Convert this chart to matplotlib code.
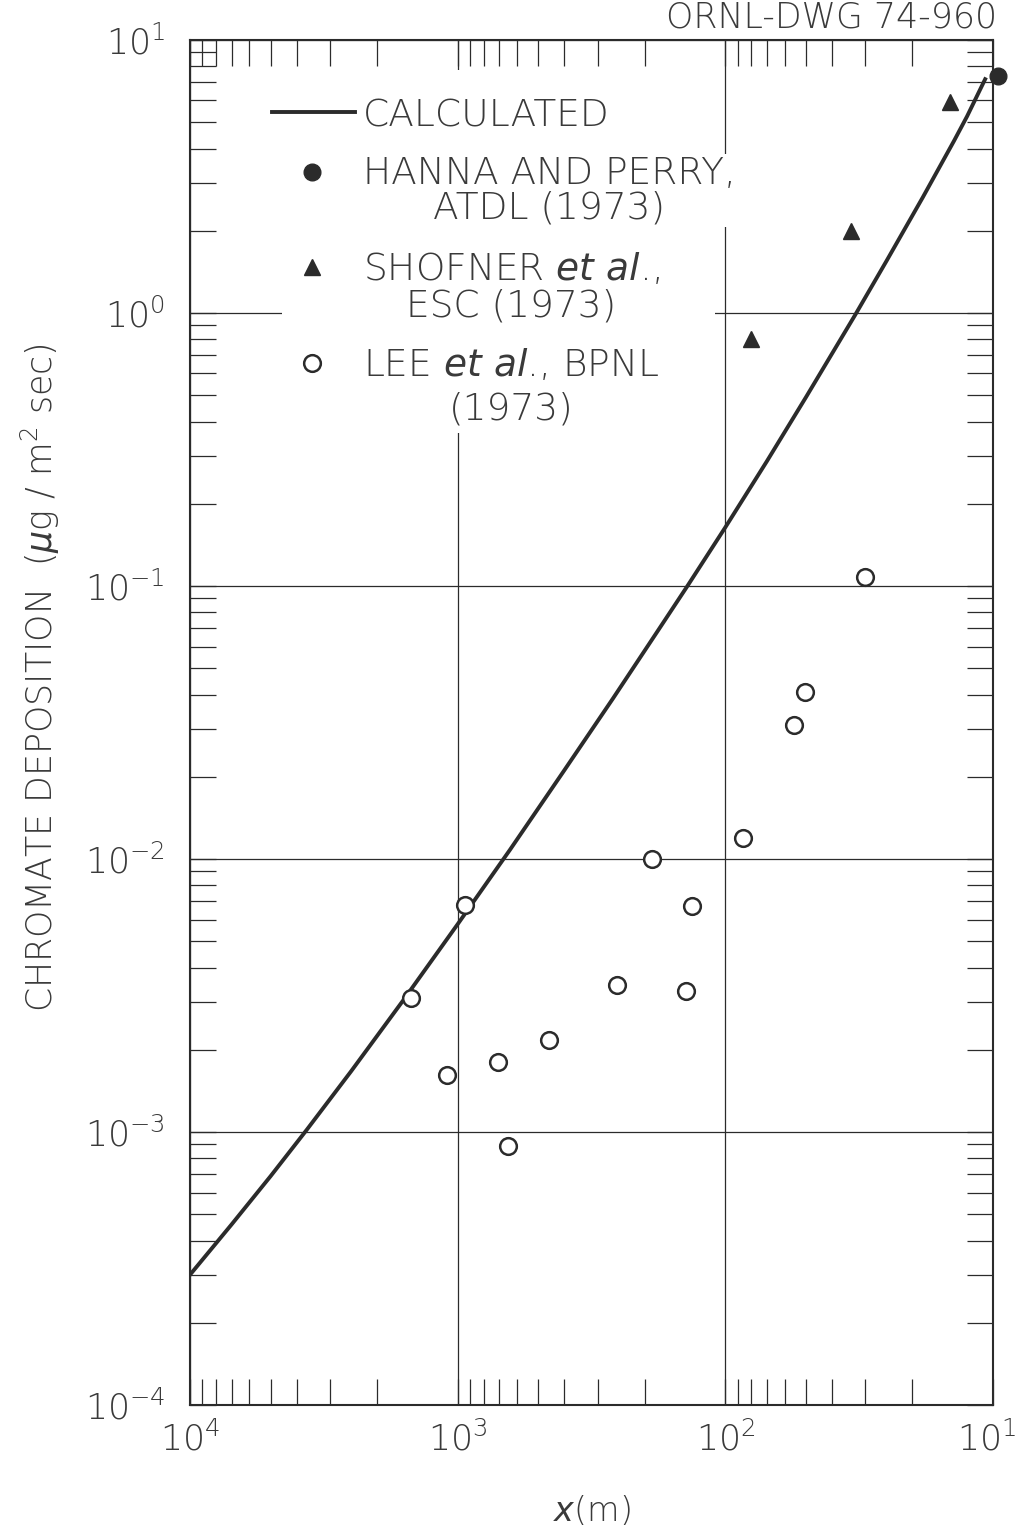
import matplotlib
matplotlib.use("Agg")
import matplotlib.pyplot as plt
import matplotlib.patches as mpatches
from matplotlib.transforms import ScaledTranslation

# ---- data ----
calc_x = [1e4, 7000, 5000, 3660, 2500, 1600, 1000, 638, 400, 263, 180, 139,
          100, 70, 50, 32.8, 25, 18.3, 14, 12.5, 10.7]
calc_y = [3.0e-4, 4.58e-4, 6.89e-4, 1.02e-3, 1.67e-3, 3.03e-3, 5.77e-3,
          1.08e-2, 2.11e-2, 3.87e-2, 6.78e-2, 0.0995, 0.164, 0.286, 0.491,
          0.98, 1.55, 2.65, 4.26, 5.25, 7.18]

hanna_x = [9.6]
hanna_y = [7.4]

shofner_x = [14.5, 34, 80]
shofner_y = [5.9, 2.0, 0.80]

lee_x = [30, 50.5, 55.5, 86, 188, 133, 940, 1490, 254, 140, 456, 706, 1096, 649]
lee_y = [0.108, 0.041, 0.031, 0.0119, 0.0100, 0.0067, 0.0068, 0.0031,
         0.00345, 0.00328, 0.00217, 0.0018, 0.00162, 0.00089]

INK = "#2b2b2b"
TXT = "#3a3a3a"

plt.rcParams.update({
    "font.family": "DejaVu Sans",
    "font.weight": "light",
    "axes.labelweight": "light",
    "text.color": TXT,
    "axes.labelcolor": TXT,
    "axes.edgecolor": INK,
    "xtick.color": INK, "ytick.color": INK,
    "xtick.labelcolor": TXT, "ytick.labelcolor": TXT,
    "mathtext.fontset": "custom",
    "mathtext.rm": "DejaVu Sans:light",
    "mathtext.it": "DejaVu Sans:italic:light",
    "mathtext.bf": "DejaVu Sans:bold",
})

fig = plt.figure(figsize=(10.19, 15.35), dpi=100)
ax = fig.add_axes([0.1865, 0.0847, 0.788, 0.8893])

ax.set_xscale("log")
ax.set_yscale("log")
ax.set_xlim(1e4, 10)
ax.set_ylim(1e-4, 10)

for s in ax.spines.values():
    s.set_linewidth(1.5)

ax.grid(True, which="major", color=INK, lw=0.9)
ax.tick_params(which="both", direction="in", top=True, right=True,
               length=19, width=0.9, labelsize=25)
ax.tick_params(axis="x", pad=12)
ax.tick_params(axis="y", pad=18)

# white field behind the key (hides the grid there, as on the drawing)
ax.add_patch(mpatches.Rectangle((0.115, 0.712), 0.539, 0.266,
                                transform=ax.transAxes, facecolor="white",
                                edgecolor="none", zorder=1.8))

ax.plot(calc_x, calc_y, color=INK, lw=2.8, zorder=3)
ax.plot(hanna_x, hanna_y, "o", color=INK, ms=12, zorder=4, clip_on=False)
ax.plot(shofner_x, shofner_y, "^", color=INK, ms=11, zorder=4)
ax.plot(lee_x, lee_y, "o", mfc="white", mec=INK, mew=1.8, ms=12, zorder=4)

# ---- key, drawn by hand ----
def ax_pt(px, py):
    return (px - 190) / 803, 1 - (py - 40) / 1365

kfs = 27
kx = ax_pt(363, 0)[0]
x0, y0 = ax_pt(272, 112)
x1, _ = ax_pt(355, 112)
ax.plot([x0, x1], [y0, y0], color=INK, lw=2.8, transform=ax.transAxes,
        zorder=5)
ax.text(kx, ax_pt(0, 116)[1], "CALCULATED", transform=ax.transAxes,
        fontsize=kfs, va="center", ha="left", zorder=5)

entries = [
    ("o", dict(color=INK, ms=12), 172, 0.97,
     "HANNA AND PERRY,\nATDL (1973)"),
    ("^", dict(color=INK, ms=11), 267, 1.06,
     "SHOFNER $\\mathit{et\\ al}$.,\nESC (1973)"),
    ("o", dict(mfc="white", mec=INK, mew=1.8, ms=12), 363, 1.32,
     "LEE $\\mathit{et\\ al}$., BPNL\n(1973)"),
]
for mk, kw, py, ls, label in entries:
    mx, my = ax_pt(312, py)
    ax.plot([mx], [my], mk, transform=ax.transAxes, zorder=5, **kw)
    ax.text(kx, ax_pt(0, py - 16)[1], label, transform=ax.transAxes,
            fontsize=kfs, va="top", ha="left", multialignment="center",
            linespacing=ls, zorder=5,
            bbox=dict(facecolor="white", edgecolor="none", pad=1))

ax.set_xlabel("$\\mathit{x}$(m)", fontsize=24, labelpad=26)
ax.set_ylabel("CHROMATE DEPOSITION  ($\\mu$g / m$^2$ sec)", fontsize=25)
ax.yaxis.set_label_coords(-0.16, 0.533)

# last x label sits at the page edge; pull it in a little
fig.canvas.draw()
for t in ax.get_xticklabels():
    if t.get_position()[0] == 10:
        t.set_transform(t.get_transform() +
                        ScaledTranslation(-6 / 100, 0, fig.dpi_scale_trans))

fig.text(997 / 1019, 1 - 28 / 1535, "ORNL-DWG 74-960", ha="right",
         va="baseline", fontsize=25)

fig.savefig("out.png", dpi=100, facecolor="white")
